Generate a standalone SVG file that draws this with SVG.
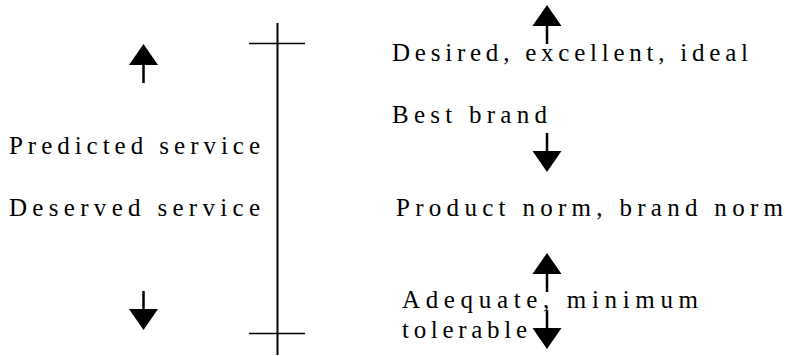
<svg xmlns="http://www.w3.org/2000/svg" xmlns:xlink="http://www.w3.org/1999/xlink" width="785" height="356" viewBox="0 0 785 356">
  <style>
    text { font-family: 'Liberation Serif', 'Times New Roman', serif; font-size: 25px; fill: #000; }
    .axis { stroke: #000; stroke-width: 2; fill: none; }
    .tick { stroke: #000; stroke-width: 1.6; fill: none; }
  </style>
  <defs>
    <!-- solid arrow pointing up: apex at origin -->
    <g id="arrow-up">
      <polygon points="0,0 14.5,21 -14.5,21" fill="#000"/>
      <rect x="-1.25" y="20" width="2.5" height="19" fill="#000"/>
    </g>
    <!-- solid arrow pointing down: shaft top at origin -->
    <g id="arrow-down">
      <rect x="-1.25" y="0" width="2.5" height="19" fill="#000"/>
      <polygon points="-14.5,18 14.5,18 0,39" fill="#000"/>
    </g>
  </defs>

  <rect width="785" height="356" fill="#fff"/>

  <!-- central scale with end ticks -->
  <g id="scale">
    <line class="axis" x1="277.5" y1="23" x2="277.5" y2="355"/>
    <line class="tick" x1="249" y1="43.5" x2="305" y2="43.5"/>
    <line class="tick" x1="249" y1="333.5" x2="305" y2="333.5"/>
  </g>

  <!-- left column -->
  <g id="predicted-service">
    <text x="9" y="154" textLength="251" lengthAdjust="spacing">Predicted service</text>
  </g>
  <g id="deserved-service">
    <text x="9" y="216" textLength="251" lengthAdjust="spacing">Deserved service</text>
  </g>

  <!-- right column -->
  <g id="desired">
    <text x="392" y="61" textLength="356" lengthAdjust="spacing">Desired, excellent, ideal</text>
  </g>
  <g id="best-brand">
    <text x="392" y="123" textLength="155" lengthAdjust="spacing">Best brand</text>
  </g>
  <g id="product-norm">
    <text x="396" y="216" textLength="387" lengthAdjust="spacing">Product norm, brand norm</text>
  </g>
  <g id="adequate">
    <text x="402" y="308" textLength="296" lengthAdjust="spacing">Adequate, minimum</text>
    <text x="402" y="338" textLength="125" lengthAdjust="spacing">tolerable</text>
  </g>

  <!-- direction arrows -->
  <g id="connectors">
    <use xlink:href="#arrow-up" x="143.5" y="44"/>
    <use xlink:href="#arrow-down" x="143.5" y="291"/>
    <use xlink:href="#arrow-up" x="547" y="5"/>
    <use xlink:href="#arrow-down" x="547" y="133"/>
    <use xlink:href="#arrow-up" x="547" y="253"/>
    <use xlink:href="#arrow-down" x="547" y="310"/>
  </g>
</svg>
